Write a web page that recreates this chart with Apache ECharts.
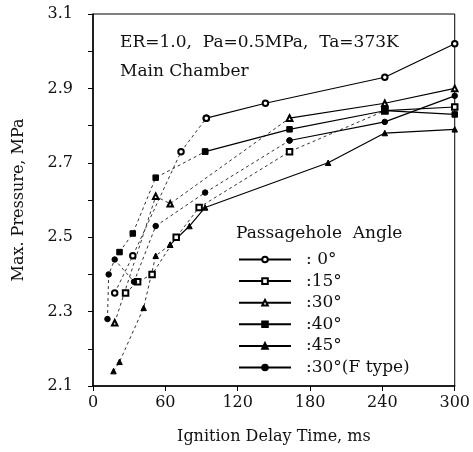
<!DOCTYPE html>
<html>
<head>
<meta charset="utf-8">
<script src="https://cdn.jsdelivr.net/npm/echarts@6/dist/echarts.min.js"></script>
<style>html,body{margin:0;padding:0;background:#fff;}#c{width:473px;height:452px;}</style>
</head>
<body>
<div id="c"></div>
<script>
// ---- data ----
const xTicks = [0, 60, 120, 180, 240, 300];
const yTicks = [2.1, 2.3, 2.5, 2.7, 2.9, 3.1];
const seriesNames = [': 0°', ':15°', ':30°', ':40°', ':45°', ':30°(F type)'];

const x0 = [18, 33, 73, 94, 143, 242, 300];
const y0 = [2.35, 2.45, 2.73, 2.82, 2.86, 2.93, 3.02];

const x15 = [27, 37, 49, 69, 88, 163, 242, 300];
const y15 = [2.35, 2.38, 2.40, 2.50, 2.58, 2.73, 2.84, 2.85];

const x30 = [18, 52, 64, 163, 242, 300];
const y30 = [2.27, 2.61, 2.59, 2.82, 2.86, 2.90];

const x40 = [22, 33, 52, 93, 163, 242, 300];
const y40 = [2.46, 2.51, 2.66, 2.73, 2.79, 2.84, 2.83];

const x45 = [17, 22, 42, 52, 64, 80, 93, 195, 242, 300];
const y45 = [2.14, 2.165, 2.31, 2.45, 2.48, 2.53, 2.58, 2.70, 2.78, 2.79];

const xF = [12, 13, 18, 34, 52, 93, 163, 242, 300];
const yF = [2.28, 2.40, 2.44, 2.38, 2.53, 2.62, 2.76, 2.81, 2.88];

// ---- styling ----
const FONT = 'DejaVu Serif';
const defs = [
  {name: seriesNames[0], x: x0,  y: y0,  symbol: 'emptyCircle',   solidFrom: 94},
  {name: seriesNames[1], x: x15, y: y15, symbol: 'emptyRect',     solidFrom: 242},
  {name: seriesNames[2], x: x30, y: y30, symbol: 'emptyTriangle', solidFrom: 163},
  {name: seriesNames[3], x: x40, y: y40, symbol: 'rect',          solidFrom: 93},
  {name: seriesNames[4], x: x45, y: y45, symbol: 'triangle',      solidFrom: 64},
  {name: seriesNames[5], x: xF,  y: yF,  symbol: 'circle',        solidFrom: 163}
];

const series = [];
defs.forEach(d => {
  const pts = d.x.map((v, i) => [v, d.y[i]]);
  const common = {
    type: 'line', name: d.name, symbol: d.symbol, symbolSize: 5.5,
    itemStyle: {color: '#000', borderColor: '#000', borderWidth: 1},
    emphasis: {disabled: true}, animation: false
  };
  series.push(Object.assign({}, common, {
    data: pts.filter(p => p[0] >= d.solidFrom),
    lineStyle: {color: '#000', width: 1.2, type: 'solid'}
  }));
  series.push(Object.assign({}, common, {
    data: pts.filter(p => p[0] <= d.solidFrom),
    lineStyle: {color: '#333', width: 1, type: [3, 3]}
  }));
});

const chart = echarts.init(document.getElementById('c'), null, {renderer: 'canvas'});
chart.setOption({
  backgroundColor: '#fff',
  animation: false,
  grid: {left: 93, right: 17, top: 14, bottom: 66, show: true, borderColor: '#000', borderWidth: 1},
  xAxis: {
    type: 'value', min: xTicks[0], max: xTicks[xTicks.length - 1], interval: 60,
    name: 'Ignition Delay Time, ms', nameLocation: 'middle', nameGap: 43,
    nameTextStyle: {fontFamily: FONT, fontSize: 16, color: '#111'},
    axisLine: {lineStyle: {color: '#000', width: 1.5}},
    axisTick: {inside: false, length: 5, lineStyle: {color: '#000'}},
    axisLabel: {fontFamily: FONT, fontSize: 16, color: '#111', margin: 9},
    splitLine: {show: false}
  },
  yAxis: {
    type: 'value', min: yTicks[0], max: yTicks[yTicks.length - 1], interval: 0.1,
    name: 'Max. Pressure, MPa', nameLocation: 'middle', nameGap: 66,
    nameTextStyle: {fontFamily: FONT, fontSize: 16, color: '#111'},
    axisLine: {lineStyle: {color: '#000', width: 1.5}},
    axisTick: {inside: false, length: 5, lineStyle: {color: '#000'}},
    axisLabel: {
      fontFamily: FONT, fontSize: 16, color: '#111', margin: 20,
      formatter: v => {
        const s = v.toFixed(1);
        return yTicks.some(t => t.toFixed(1) === s) ? s : '';
      }
    },
    splitLine: {show: false}
  },
  legend: {
    orient: 'vertical', left: 238, top: 251, padding: 0,
    data: seriesNames.map(n => ({name: n})),
    itemWidth: 52, itemHeight: 7, itemGap: 4.6,
    textStyle: {fontFamily: FONT, fontSize: 17, color: '#111', lineHeight: 14, padding: [0, 0, 0, 10]},
    selectedMode: false
  },
  graphic: [
    {type: 'text', left: 120, top: 34, style: {text: 'ER=1.0,  Pa=0.5MPa,  Ta=373K', font: '17px "DejaVu Serif"', fill: '#111'}},
    {type: 'text', left: 120, top: 63, style: {text: 'Main Chamber', font: '17px "DejaVu Serif"', fill: '#111'}},
    {type: 'text', left: 236, top: 225, style: {text: 'Passagehole  Angle', font: '17px "DejaVu Serif"', fill: '#111'}}
  ],
  series: series
});
</script>
</body>
</html>
